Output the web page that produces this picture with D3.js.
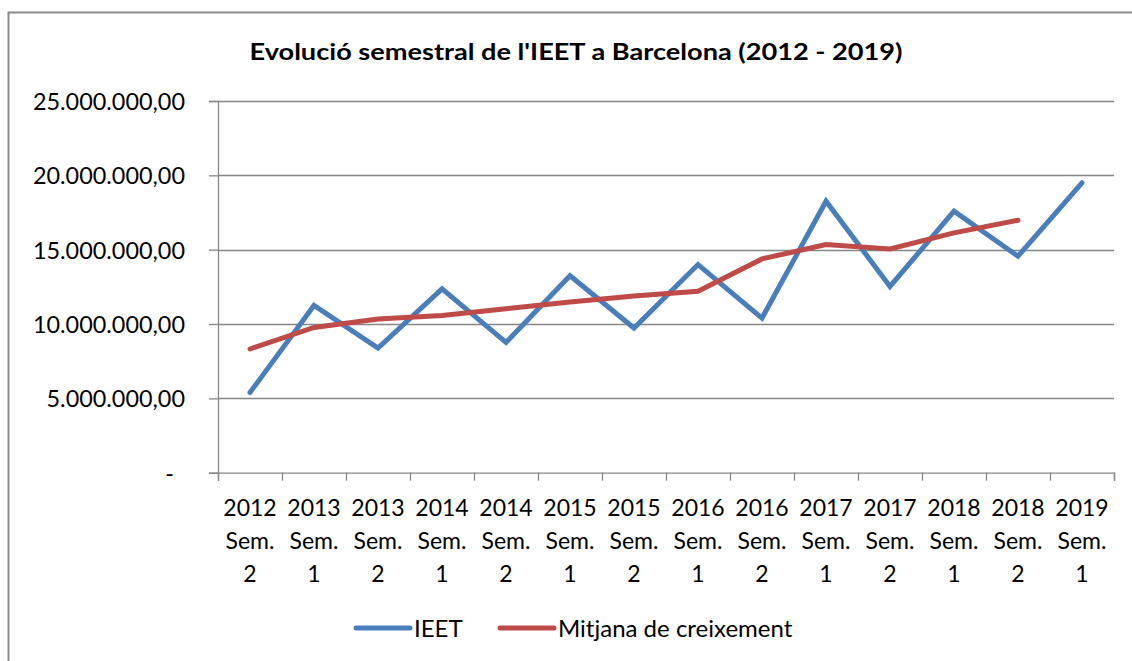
<!DOCTYPE html>
<html>
<head>
<meta charset="utf-8">
<script src="https://cdn.jsdelivr.net/npm/d3@7"></script>
<style>
  body { margin: 0; background: #fff; }
  text { font-family: Lato, "Open Sans", sans-serif; fill: #000; }
</style>
</head>
<body>
<div id="chart"></div>
<script>
// chart data
var categories = ["2012 Sem. 2", "2013 Sem. 1", "2013 Sem. 2", "2014 Sem. 1", "2014 Sem. 2",
                  "2015 Sem. 1", "2015 Sem. 2", "2016 Sem. 1", "2016 Sem. 2", "2017 Sem. 1",
                  "2017 Sem. 2", "2018 Sem. 1", "2018 Sem. 2", "2019 Sem. 1"]
var ieet = [5390000, 11250000, 8380000, 12360000, 8760000, 13250000, 9730000,
            14000000, 10400000, 18260000, 12530000, 17590000, 14560000, 19500000]
var mitjana = [8320000, 9770000, 10340000, 10580000, 11030000, 11480000, 11880000,
               12200000, 14380000, 15340000, 15050000, 16130000, 16980000, null]
var yTicks = [0, 5000000, 10000000, 15000000, 20000000, 25000000]
var seriesNames = ["IEET", "Mitjana de creixement"]

var title = "Evolució semestral de l'IEET a Barcelona (2012 - 2019)"

width = 1132
height = 661
var plot = { left: 218, right: 1114, top: 101, bottom: 472.7 }

var blue = "#4a7ebb"
var red = "#be4b48"
var grey = "#868686"

var svg = d3.select("#chart")
    .append("svg")
    .attr("width", width)
    .attr("height", height)

// outer chart frame (only top and left are in view)
svg.append("rect")
    .attr("x", 8.5).attr("y", 12.5)
    .attr("width", 1200).attr("height", 700)
    .attr("fill", "none")
    .attr("stroke", "#8c8c8c")
    .attr("stroke-width", 2)

svg.append("text")
    .attr("x", 576)
    .attr("y", 60)
    .attr("text-anchor", "middle")
    .style("font-weight", "bold")
    .style("font-size", "22.5px")
    .attr("textLength", 653)
    .attr("lengthAdjust", "spacingAndGlyphs")
    .text(title)

var xScale = d3.scaleBand()
    .domain(categories)
    .range([plot.left, plot.right])

var yScale = d3.scaleLinear()
    .domain([0, 25000000])
    .range([plot.bottom, plot.top])

var locale = d3.formatLocale({ decimal: ",", thousands: ".", grouping: [3], currency: ["", ""] })
var fmt = locale.format(",.2f")

// gridlines
svg.append("g")
    .selectAll("line")
    .data(yTicks.slice(1))
    .enter()
    .append("line")
    .attr("x1", plot.left).attr("x2", plot.right)
    .attr("y1", d => Math.round(yScale(d)) + 0.5)
    .attr("y2", d => Math.round(yScale(d)) + 0.5)
    .attr("stroke", grey)
    .attr("stroke-width", 1.3)

// y axis
var axisY = d3.axisLeft(yScale)
    .tickValues(yTicks)
    .tickSize(9)
    .tickPadding(24)
    .tickFormat(d => d == 0 ? "-" : fmt(d))

var gy = svg.append("g")
    .attr("transform", "translate(" + plot.left + ",0)")
    .call(axisY)
gy.select(".domain").attr("stroke", grey).attr("stroke-width", 1.3)
gy.selectAll(".tick line").attr("stroke", grey).attr("stroke-width", 1.3)
gy.selectAll(".tick text")
    .style("font-size", "23.4px")
    .style("font-family", "Lato, sans-serif")
    .attr("fill", "#000")
    .attr("dy", "0.36em")
gy.selectAll(".tick text").filter(d => d == 0).attr("dx", -11)

// x axis: ticks on category boundaries
var boundary = d3.scaleLinear().domain([0, categories.length]).range([plot.left, plot.right])
var gx = svg.append("g")
    .attr("transform", "translate(0," + plot.bottom + ")")
    .call(d3.axisBottom(boundary).tickValues(d3.range(categories.length + 1)).tickSize(8).tickFormat(""))
gx.select(".domain").attr("stroke", grey).attr("stroke-width", 1.3)
gx.selectAll(".tick line").attr("stroke", grey).attr("stroke-width", 1.3)

var xLabels = svg.append("g")
    .selectAll("text")
    .data(categories)
    .enter()
    .append("text")
    .attr("text-anchor", "middle")
    .style("font-size", "23px")
    .attr("transform", d => "translate(" + (xScale(d) + xScale.bandwidth() / 2) + ",0)")

xLabels.selectAll("tspan")
    .data(d => d.split(" "))
    .enter()
    .append("tspan")
    .attr("x", 0)
    .attr("y", (d, i) => 516 + i * 33)
    .text(d => d)

// lines
var line = d3.line()
    .defined(d => d.v != null)
    .x(d => xScale(d.c) + xScale.bandwidth() / 2)
    .y(d => yScale(d.v))

function drawSeries(values, color) {
    svg.append("path")
        .datum(categories.map((c, i) => ({ c: c, v: values[i] })))
        .attr("d", line)
        .attr("fill", "none")
        .attr("stroke", color)
        .attr("stroke-width", 5)
        .attr("stroke-linecap", "round")
        .attr("stroke-linejoin", "miter")
}
drawSeries(ieet, blue)
drawSeries(mitjana, red)

// legend
var legend = [
    { name: seriesNames[0], color: blue, x: 356 },
    { name: seriesNames[1], color: red, x: 500 }
]
var lg = svg.append("g")
    .selectAll("g")
    .data(legend)
    .enter()
    .append("g")
    .attr("transform", d => "translate(" + d.x + ",628)")
lg.append("line")
    .attr("x1", 0).attr("x2", 54)
    .attr("stroke", d => d.color)
    .attr("stroke-width", 5)
    .attr("stroke-linecap", "round")
lg.append("text")
    .attr("x", 58)
    .attr("y", 9)
    .style("font-size", "24px")
    .text(d => d.name)
</script>
</body>
</html>
